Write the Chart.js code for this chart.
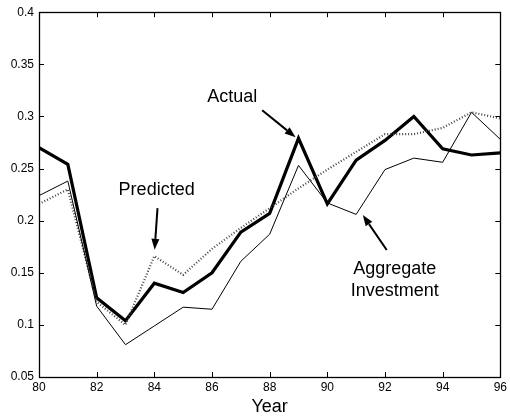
<!DOCTYPE html>
<html>
<head>
<meta charset="utf-8">
<script src="https://cdn.jsdelivr.net/npm/chart.js@4"></script>
<style>
  html, body { margin: 0; padding: 0; background: #fff; }
  #wrap { width: 510px; height: 419px; }
</style>
</head>
<body>
<div id="wrap"><canvas id="c" width="510" height="419"></canvas></div>
<script>
// Investment rate by year
const years = [80, 81, 82, 83, 84, 85, 86, 87, 88, 89, 90, 91, 92, 93, 94, 95, 96];
const actual = [0.270, 0.254, 0.126, 0.104, 0.140, 0.131, 0.150, 0.189, 0.207, 0.279, 0.216, 0.258, 0.277, 0.300, 0.269, 0.263, 0.265];
const aggregateInvestment = [0.224, 0.238, 0.118, 0.081, 0.099, 0.117, 0.115, 0.161, 0.187, 0.253, 0.217, 0.206, 0.249, 0.260, 0.256, 0.304, 0.278];
const predicted = [0.216, 0.230, 0.122, 0.100, 0.166, 0.148, 0.173, 0.193, 0.212, 0.231, 0.249, 0.266, 0.283, 0.283, 0.289, 0.304, 0.298];

const xTicks = [80, 82, 84, 86, 88, 90, 92, 94, 96];
const yTicks = [0.05, 0.1, 0.15, 0.2, 0.25, 0.3, 0.35, 0.4];

// Callout labels with arrows, in data coordinates
const callouts = [
  { lines: ['Actual'], at: [86.70, 0.3185], from: [87.74, 0.306], to: [88.90, 0.280] },
  { lines: ['Predicted'], at: [84.08, 0.2293], from: [84.11, 0.212], to: [84.01, 0.172] },
  { lines: ['Aggregate', 'Investment'], at: [92.34, 0.1536], from: [92.06, 0.1718], to: [91.23, 0.2054] }
];

const toPoints = arr => years.map((yr, i) => ({ x: yr, y: arr[i] }));

const FONT = '"Liberation Sans", Arial, Helvetica, sans-serif';

// Box around the plot area with inward-facing ticks on all four sides
const boxTicks = {
  id: 'boxTicks',
  afterDatasetsDraw(chart) {
    const { ctx, chartArea: a, scales } = chart;
    const len = 5;
    ctx.save();
    ctx.strokeStyle = '#000';
    ctx.lineWidth = 1;
    ctx.beginPath();
    xTicks.forEach(v => {
      const px = Math.round(scales.x.getPixelForValue(v)) + 0.5;
      ctx.moveTo(px, a.bottom); ctx.lineTo(px, a.bottom - len);
      ctx.moveTo(px, a.top); ctx.lineTo(px, a.top + len);
    });
    yTicks.forEach(v => {
      const py = Math.round(scales.y.getPixelForValue(v)) + 0.5;
      ctx.moveTo(a.left, py); ctx.lineTo(a.left + len, py);
      ctx.moveTo(a.right, py); ctx.lineTo(a.right - len, py);
    });
    ctx.stroke();
    ctx.lineWidth = 1.3;
    ctx.strokeRect(Math.round(a.left) + 0.5, Math.round(a.top) + 0.5,
                   Math.round(a.right - a.left), Math.round(a.bottom - a.top));
    ctx.restore();
  }
};

// Text callouts with arrows
const calloutPlugin = {
  id: 'callouts',
  afterDatasetsDraw(chart) {
    const { ctx, scales } = chart;
    const X = v => scales.x.getPixelForValue(v);
    const Y = v => scales.y.getPixelForValue(v);
    ctx.save();
    ctx.fillStyle = '#000';
    ctx.strokeStyle = '#000';
    ctx.font = '18px ' + FONT;
    ctx.textAlign = 'center';
    ctx.textBaseline = 'middle';
    callouts.forEach(c => {
      const cx = X(c.at[0]);
      const cy = Y(c.at[1]);
      const lh = 22;
      c.lines.forEach((t, i) => ctx.fillText(t, cx, cy + i * lh));
      const x1 = X(c.from[0]), y1 = Y(c.from[1]);
      const x2 = X(c.to[0]), y2 = Y(c.to[1]);
      const ang = Math.atan2(y2 - y1, x2 - x1);
      const head = 11, half = 4;
      const bx = x2 - head * Math.cos(ang), by = y2 - head * Math.sin(ang);
      ctx.lineWidth = 2;
      ctx.beginPath();
      ctx.moveTo(x1, y1);
      ctx.lineTo(bx, by);
      ctx.stroke();
      ctx.beginPath();
      ctx.moveTo(x2, y2);
      ctx.lineTo(bx + half * Math.sin(ang), by - half * Math.cos(ang));
      ctx.lineTo(bx - half * Math.sin(ang), by + half * Math.cos(ang));
      ctx.closePath();
      ctx.fill();
    });
    ctx.restore();
  }
};

new Chart(document.getElementById('c'), {
  type: 'line',
  data: {
    datasets: [
      {
        label: 'Aggregate Investment',
        data: toPoints(aggregateInvestment),
        borderColor: '#000',
        borderWidth: 1,
        pointRadius: 0,
        tension: 0
      },
      {
        label: 'Predicted',
        data: toPoints(predicted),
        borderColor: '#444',
        borderWidth: 2.2,
        borderDash: [1, 2],
        pointRadius: 0,
        tension: 0
      },
      {
        label: 'Actual',
        data: toPoints(actual),
        borderColor: '#000',
        borderWidth: 3.2,
        borderJoinStyle: 'miter',
        pointRadius: 0,
        tension: 0
      }
    ]
  },
  options: {
    responsive: false,
    animation: false,
    devicePixelRatio: 1,
    layout: { padding: { top: 12, right: 8, left: 0, bottom: 0 } },
    plugins: {
      legend: { display: false },
      tooltip: { enabled: false }
    },
    scales: {
      x: {
        type: 'linear',
        min: 80,
        max: 96,
        afterBuildTicks: s => { s.ticks = xTicks.map(v => ({ value: v })); },
        afterFit: s => { s.height = 42; },
        grid: { display: false, drawTicks: false },
        border: { display: false },
        ticks: {
          autoSkip: false,
          maxRotation: 0,
          padding: 3,
          color: '#000',
          font: { family: FONT, size: 12 }
        },
        title: {
          display: true,
          text: 'Year',
          color: '#000',
          padding: { top: 0, bottom: 1 },
          font: { family: FONT, size: 18 }
        }
      },
      y: {
        type: 'linear',
        min: 0.05,
        max: 0.4,
        afterBuildTicks: s => { s.ticks = yTicks.map(v => ({ value: v })); },
        afterFit: s => { s.width = 39; },
        grid: { display: false, drawTicks: false },
        border: { display: false },
        ticks: {
          autoSkip: false,
          padding: 5,
          color: '#000',
          font: { family: FONT, size: 12 },
          callback: v => String(+(+v).toFixed(2))
        }
      }
    }
  },
  plugins: [boxTicks, calloutPlugin]
});
</script>
</body>
</html>
